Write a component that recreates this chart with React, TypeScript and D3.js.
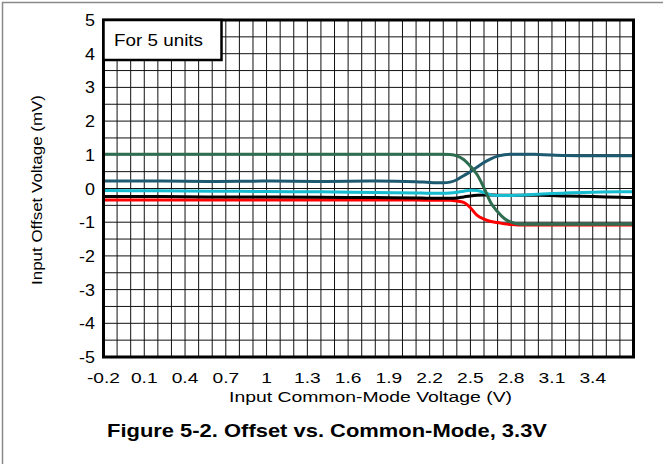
import React, { useRef, useEffect } from "react"
import * as d3 from "d3"

// common-mode voltage sample points (V)
const vcm = [
  -0.2, 0.2, 0.6, 1.0, 1.4, 1.8, 2.1, 2.2, 2.3, 2.35, 2.4, 2.45, 2.5, 2.55,
  2.6, 2.65, 2.7, 2.75, 2.8, 2.85, 2.9, 3.0, 3.2, 3.4, 3.6, 3.7,
]

// offset per unit (mV)
const unitGreen = [
  1.02, 1.02, 1.02, 1.02, 1.02, 1.02, 1.02, 1.02, 1.02, 1.01, 0.97, 0.86, 0.66,
  0.41, 0.02, -0.42, -0.69, -0.89, -1.0, -1.05, -1.06, -1.06, -1.06, -1.06,
  -1.06, -1.06,
]
const unitTeal = [
  0.22, 0.22, 0.21, 0.22, 0.21, 0.22, 0.2, 0.18, 0.17, 0.19, 0.26, 0.38, 0.5,
  0.64, 0.77, 0.88, 0.96, 1.0, 1.02, 1.02, 1.02, 1.01, 0.98, 0.97, 0.97, 0.97,
]
const unitCyan = [
  -0.06, -0.07, -0.08, -0.09, -0.1, -0.12, -0.13, -0.14, -0.14, -0.13, -0.11,
  -0.08, -0.05, -0.06, -0.12, -0.19, -0.21, -0.21, -0.21, -0.2, -0.19, -0.17,
  -0.13, -0.11, -0.1, -0.1,
]
const unitBlack = [
  -0.24, -0.24, -0.25, -0.25, -0.26, -0.27, -0.28, -0.29, -0.29, -0.29, -0.28,
  -0.25, -0.22, -0.2, -0.19, -0.19, -0.2, -0.2, -0.2, -0.2, -0.2, -0.2, -0.22,
  -0.24, -0.26, -0.27,
]
const unitRed = [
  -0.34, -0.34, -0.34, -0.34, -0.34, -0.34, -0.34, -0.35, -0.35, -0.35, -0.37,
  -0.41, -0.57, -0.8, -0.91, -0.98, -1.01, -1.05, -1.07, -1.08, -1.08, -1.08,
  -1.08, -1.08, -1.08, -1.08,
]

const seriesValues = [unitRed, unitBlack, unitCyan, unitTeal, unitGreen]
const seriesColors = ["#ff0000", "#000000", "#16bcd0", "#1d5a70", "#2f6d50"]

const xTickLabels = [
  "-0.2", "0.1", "0.4", "0.7", "1", "1.3", "1.6", "1.9", "2.2", "2.5", "2.8",
  "3.1", "3.4",
]
const yTickLabels = [-5, -4, -3, -2, -1, 0, 1, 2, 3, 4, 5]

const W = 663
const H = 464

const App: React.FC = () => {
  const svgRef = useRef<SVGSVGElement>(null)

  useEffect(() => {
    if (!svgRef.current) return
    const svg = d3.select(svgRef.current)
    svg.selectAll("*").remove()

    const left = 103.5
    const right = 633.5
    const top = 20
    const bottom = 357
    const font = "Liberation Sans, Arial, sans-serif"

    const x = d3.scaleLinear().domain([-0.2, 3.7]).range([left, right])
    const y = d3.scaleLinear().domain([-5, 5]).range([bottom, top])

    svg.append("rect").attr("width", W).attr("height", H).attr("fill", "white")

    // outer frame (top + left only)
    svg
      .append("path")
      .attr("d", `M2.5,${H} L2.5,2.5 L${W},2.5`)
      .attr("fill", "none")
      .attr("stroke", "#8a8a8a")
      .attr("stroke-width", 1.5)

    // grid
    const vLines = d3.range(1, 39).map((i) => -0.2 + i * 0.1)
    const hLines = d3.range(1, 20).map((i) => -5 + i * 0.5)

    svg
      .append("g")
      .selectAll("line")
      .data(vLines)
      .enter()
      .append("line")
      .attr("x1", (d) => x(d))
      .attr("x2", (d) => x(d))
      .attr("y1", top)
      .attr("y2", bottom)
      .attr("stroke", "#111")
      .attr("stroke-width", 1)

    svg
      .append("g")
      .selectAll("line")
      .data(hLines)
      .enter()
      .append("line")
      .attr("x1", left)
      .attr("x2", right)
      .attr("y1", (d) => y(d))
      .attr("y2", (d) => y(d))
      .attr("stroke", "#111")
      .attr("stroke-width", 1)

    // curves
    const line = d3
      .line<number>()
      .x((_, i) => x(vcm[i]))
      .y((d) => y(d))
      .curve(d3.curveMonotoneX)

    svg
      .append("g")
      .selectAll("path")
      .data(seriesValues)
      .enter()
      .append("path")
      .attr("d", (d) => line(d))
      .attr("fill", "none")
      .attr("stroke", (_, i) => seriesColors[i])
      .attr("stroke-width", 3)
      .attr("stroke-linejoin", "round")

    // plot border
    svg
      .append("rect")
      .attr("x", left)
      .attr("y", top)
      .attr("width", right - left)
      .attr("height", bottom - top)
      .attr("fill", "none")
      .attr("stroke", "#000")
      .attr("stroke-width", 3)

    // legend box
    svg
      .append("rect")
      .attr("x", left)
      .attr("y", top)
      .attr("width", 118)
      .attr("height", 40)
      .attr("fill", "white")
      .attr("stroke", "#000")
      .attr("stroke-width", 2.5)
    svg
      .append("text")
      .attr("x", 114)
      .attr("y", 46)
      .attr("font-family", font)
      .attr("font-size", 17)
      .attr("textLength", 89)
      .attr("lengthAdjust", "spacingAndGlyphs")
      .attr("fill", "#000")
      .text("For 5 units")

    // tick labels (source text is a bit wider than Arial, stretch horizontally)
    svg
      .append("g")
      .selectAll("text")
      .data(xTickLabels)
      .enter()
      .append("text")
      .attr("transform", (d) => `translate(${x(+d)},383) scale(1.28,1)`)
      .attr("text-anchor", "middle")
      .attr("font-family", font)
      .attr("font-size", 15)
      .attr("fill", "#000")
      .text((d) => d)

    svg
      .append("g")
      .selectAll("text")
      .data(yTickLabels)
      .enter()
      .append("text")
      .attr("transform", (d) => `translate(95,${y(d) + 6}) scale(1.12,1)`)
      .attr("text-anchor", "end")
      .attr("font-family", font)
      .attr("font-size", 16)
      .attr("fill", "#000")
      .text((d) => String(d))

    svg
      .append("text")
      .attr("x", 229)
      .attr("y", 402)
      .attr("font-family", font)
      .attr("font-size", 15.5)
      .attr("textLength", 283)
      .attr("lengthAdjust", "spacingAndGlyphs")
      .attr("fill", "#000")
      .text("Input Common-Mode Voltage (V)")

    svg
      .append("text")
      .attr("transform", `translate(42,285) rotate(-90)`)
      .attr("font-family", font)
      .attr("font-size", 15.5)
      .attr("textLength", 190)
      .attr("lengthAdjust", "spacingAndGlyphs")
      .attr("fill", "#000")
      .text("Input Offset Voltage (mV)")

    svg
      .append("text")
      .attr("x", 107)
      .attr("y", 437)
      .attr("font-family", font)
      .attr("font-size", 19)
      .attr("font-weight", "bold")
      .attr("textLength", 440)
      .attr("lengthAdjust", "spacingAndGlyphs")
      .attr("fill", "#000")
      .text("Figure 5-2. Offset vs. Common-Mode, 3.3V")
  }, [])

  return (
    <div style={{ position: "absolute", left: 0, top: 0 }}>
      <svg ref={svgRef} width={W} height={H} style={{ display: "block" }} />
    </div>
  )
}

export default App
